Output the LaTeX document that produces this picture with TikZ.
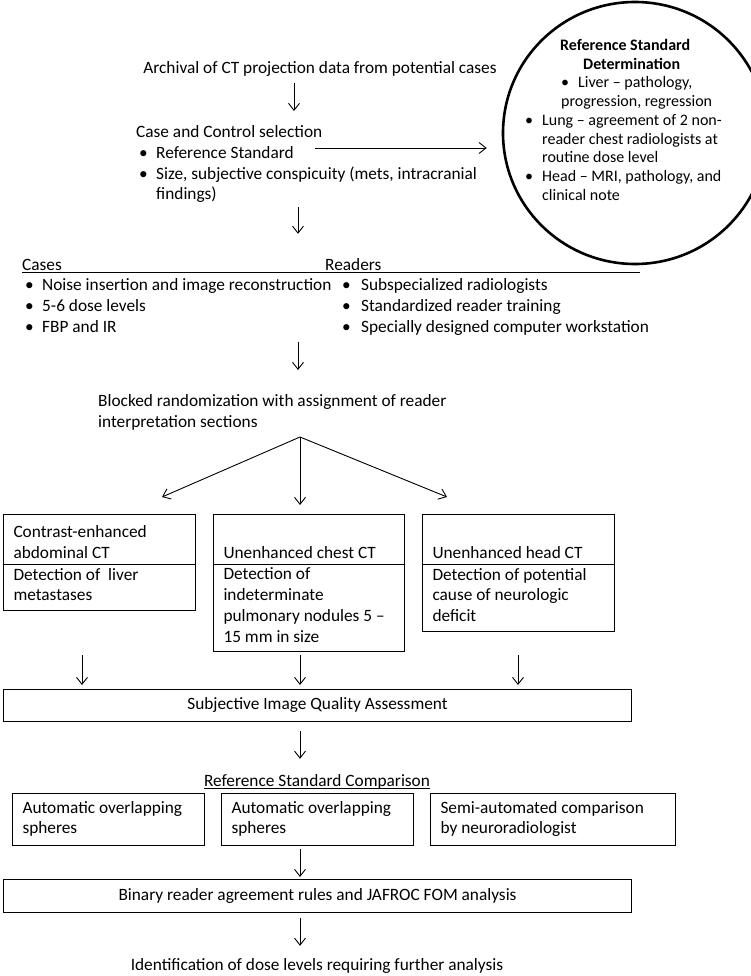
\documentclass[tikz,border=0pt]{standalone}
\usepackage{fontspec}
\setmainfont{Carlito}
\usepackage{tikz}
\usetikzlibrary{arrows.meta}
\usetikzlibrary{shapes.geometric}
\usetikzlibrary{shapes.multipart}

\newcommand{\mainsize}{\fontsize{17.3}{20.7}\selectfont}
\newcommand{\circsize}{\fontsize{16}{18.75}\selectfont}
\newcommand{\bul}[1][17pt]{\makebox[#1][l]{\textbullet}}
\newcommand{\typefirst}{\rule{0pt}{19.5pt}}
\newcommand{\typeonly}{\rule{0pt}{40.2pt}}
\newcommand{\typelast}{\rule[-2.8pt]{0pt}{0pt}}

\tikzset{
	flow/.style={-{Straight Barb[length=7pt,width=11pt]}, line width=0.9pt},
	txt/.style={inner sep=0pt, align=left},
	box/.style={draw, line width=1pt, inner xsep=10pt, align=flush left},
	splitbox/.style={draw, line width=1pt, rectangle split, rectangle split parts=2, inner xsep=10pt, inner ysep=3pt, align=flush left}
}

\begin{document}
\begin{tikzpicture}[x=1pt, y=-1pt, font=\mainsize]
		\useasboundingbox (0, 0) rectangle (750, 976);
		\coordinate (topcol) at (294, 0);
		\coordinate (midcol) at (298, 0);
		\coordinate (lowcol) at (300, 0);
		\coordinate (lcol) at (82, 0);
		\coordinate (rcol) at (518, 0);
		\coordinate (fork) at (300, 437);
		\coordinate (forkl) at (162, 497);
		\coordinate (forkr) at (447, 497);
		\coordinate (rstail) at (315, 148);

		\node [txt, anchor=base] (archive) at (320, 73.5) {\strut Archival of CT projection data from potential cases};
		\node [txt, anchor=north west] (casesel) at (136, 123) {\strut Case and Control selection\\\hspace*{3pt}\bul Reference Standard\\\hspace*{3pt}\bul Size, subjective conspicuity (mets, intracranial\\\hspace*{20pt}findings)\strut};

		\node [draw, ellipse, line width=2.6pt, minimum width=264pt, minimum height=262pt, inner sep=0pt] (refstd) at (635, 133) {};
		\node [txt, font=\circsize, anchor=north west] (refstdtxt) at (525, 37) {\strut\hspace*{35pt}\textbf{Reference Standard}\\\hspace*{58pt}\textbf{Determination}\\\hspace*{36pt}\bul Liver -- pathology,\\\hspace*{36pt}progression, regression\\\bul Lung -- agreement of 2 non-\\\hspace*{17pt}reader chest radiologists at\\\hspace*{17pt}routine dose level\\\bul Head -- MRI, pathology, and\\\hspace*{17pt}clinical note};

		\node [txt, anchor=base west] (caseshead) at (22, 270) {\strut Cases};
		\node [txt, anchor=base west] (readhead) at (325, 270) {\strut Readers};
		\node [txt, anchor=north west] (caselist) at (25, 276) {\strut\bul Noise insertion and image reconstruction\\\bul 5-6 dose levels\\\bul FBP and IR\strut};
		\node [txt, anchor=north west] (readlist) at (342, 276) {\strut\bul[15pt] Subspecialized radiologists\\\bul[15pt] Standardized reader training\\\bul[15pt] Specially designed computer workstation\strut};
		\node [txt, anchor=north west] (blocked) at (98, 392) {\strut Blocked randomization with assignment of reader\\interpretation sections\strut};

		\node [splitbox, text width=172pt, anchor=north west] (abd) at (3, 514) {\typefirst Contrast-enhanced\\abdominal CT\typelast\nodepart{two}Detection of~ liver\\metastases\strut};
		\node [splitbox, text width=171pt, anchor=north west] (chest) at (213, 514) {\typeonly Unenhanced chest CT\typelast\nodepart{two}Detection of\\indeterminate\\pulmonary nodules 5 --\\15 mm in size\strut};
		\node [splitbox, text width=172pt, anchor=north west] (head) at (422, 514) {\typeonly Unenhanced head CT\typelast\nodepart{two}Detection of potential\\cause of neurologic\\deficit\strut};

		\node [box, minimum width=628pt, inner ysep=5.65pt, align=center, anchor=north west] (siqa) at (3, 689) {\strut Subjective Image Quality Assessment};
		\node [txt, anchor=base] (rsc) at (317, 786.5) {\strut Reference Standard Comparison};
		\node [box, text width=172pt, inner ysep=5.3pt, anchor=north west] (overa) at (12, 793) {\strut Automatic overlapping\\spheres\strut};
		\node [box, text width=172pt, inner ysep=5.3pt, anchor=north west] (overb) at (221, 793) {\strut Automatic overlapping\\spheres\strut};
		\node [box, text width=225pt, inner ysep=5.3pt, anchor=north west] (semi) at (430, 793) {\strut Semi-automated comparison\\by neuroradiologist\strut};
		\node [box, minimum width=628pt, inner ysep=6pt, align=center, anchor=north west] (binary) at (3, 879) {\strut Binary reader agreement rules and JAFROC FOM analysis};
		\node [txt, anchor=base] (ident) at (317, 970.5) {\strut Identification of dose levels requiring further analysis};

		\draw [line width=1pt] ([yshift=-2pt]caseshead.base west) -- ++(618, 0);
		\draw [line width=0.9pt] ([yshift=-1.5pt]rsc.base west) -- ([yshift=-1.5pt]rsc.base east);

		\draw [flow, shorten <=3pt, shorten >=12pt] (archive.south -| topcol) -- (casesel.north -| topcol);
		\draw [flow, shorten >=15pt] (rstail) -- (rstail -| refstd.west);
		\draw [flow, shorten <=1pt, shorten >=21.5pt] (casesel.south -| midcol) -- (caseshead.north -| midcol);
		\draw [flow, shorten <=3pt, shorten >=22pt] (caselist.south -| midcol) -- (blocked.north -| midcol);
		\draw [flow] (fork) -- (forkl);
		\draw [flow] (fork) -- (forkr);
		\draw [flow, shorten >=9pt] (fork) -- (fork |- chest.north);
		\foreach \c in {lcol, lowcol, rcol}
			\draw [flow, shorten <=3pt, shorten >=4pt] (chest.south -| \c) -- (siqa.north -| \c);
		\draw [flow, shorten <=9pt, shorten >=13pt] (siqa.south -| lowcol) -- (rsc.north -| lowcol);
		\draw [flow, shorten <=3pt, shorten >=2pt] (overb.south -| lowcol) -- (binary.north -| lowcol);
		\draw [flow, shorten <=5pt, shorten >=10pt] (binary.south -| lowcol) -- (ident.north -| lowcol);
	\end{tikzpicture}
\end{document}
